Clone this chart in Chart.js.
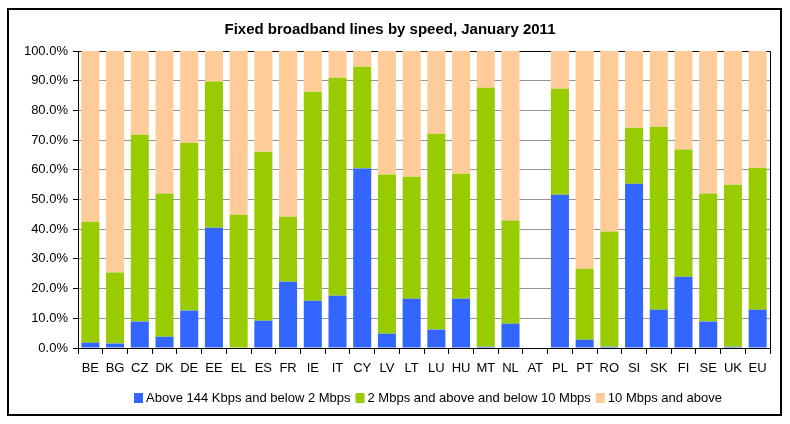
<!DOCTYPE html>
<html>
<head>
<meta charset="utf-8">
<script src="https://cdn.jsdelivr.net/npm/chart.js@4.4.1/dist/chart.umd.min.js"></script>
<style>
  html, body { margin: 0; padding: 0; background: #fff; }
  #wrap { width: 790px; height: 424px; }
</style>
</head>
<body>
<div id="wrap"><canvas id="broadbandChart" width="790" height="424"></canvas></div>
<script>
// Fixed broadband lines by speed, January 2011 (share of lines, %)
const countries = ['BE', 'BG', 'CZ', 'DK', 'DE', 'EE', 'EL', 'ES', 'FR', 'IE', 'IT', 'CY', 'LV', 'LT',
  'LU', 'HU', 'MT', 'NL', 'AT', 'PL', 'PT', 'RO', 'SI', 'SK', 'FI', 'SE', 'UK', 'EU'];
const below2Mbps = [1.8, 1.5, 8.9, 3.8, 12.6, 40.5, 0, 9.2, 22.3, 15.9, 17.6, 60.4, 4.8, 16.6,
  6.2, 16.6, 0.4, 8.2, null, 51.6, 2.8, 0.4, 55.3, 12.9, 24.0, 8.9, 0.4, 12.9];
const from2to10Mbps = [40.7, 23.9, 62.9, 48.2, 56.5, 49.2, 44.9, 56.9, 21.9, 70.4, 73.4, 34.3, 53.6, 41.1,
  65.9, 42.1, 87.2, 34.7, null, 35.7, 23.9, 38.8, 18.9, 61.6, 42.8, 43.1, 54.6, 47.8];
const above10Mbps = [57.5, 74.6, 28.2, 48.0, 30.9, 10.3, 55.1, 33.9, 55.8, 13.7, 9.0, 5.3, 41.6, 42.3,
  27.9, 41.3, 12.4, 57.1, null, 12.7, 73.3, 60.8, 25.8, 25.5, 33.2, 48.0, 45.0, 39.3];
const yTicks = [0, 10, 20, 30, 40, 50, 60, 70, 80, 90, 100];

const FONT = "'Liberation Sans', Arial, sans-serif";

// black frame round the whole chart and round the plot area
const frames = {
  id: 'frames',
  beforeDatasetsDraw(chart) {
    const { ctx, chartArea: a } = chart;
    ctx.save();
    ctx.strokeStyle = '#000';
    ctx.lineWidth = 1;
    ctx.beginPath();
    ctx.moveTo(a.left, a.top + 0.5);
    ctx.lineTo(a.right + 0.5, a.top + 0.5);
    ctx.lineTo(a.right + 0.5, a.bottom);
    ctx.stroke();
    ctx.restore();
  },
  afterDraw(chart) {
    const ctx = chart.ctx;
    ctx.save();
    ctx.strokeStyle = '#000';
    ctx.lineWidth = 2;
    ctx.strokeRect(8, 9, 773, 406);
    ctx.restore();
  }
};

// legend row under the axis labels
const legendRow = {
  id: 'legendRow',
  afterDraw(chart) {
    const ctx = chart.ctx;
    const sets = chart.data.datasets;
    const box = 9, textGap = 3, itemGap = 5;
    ctx.save();
    ctx.font = '13px ' + FONT;
    const widths = sets.map(ds => box + textGap + ctx.measureText(ds.label).width);
    const total = widths.reduce((s, w) => s + w, 0) + itemGap * (sets.length - 1);
    let x = Math.round(428 - total / 2);
    const y = 398;
    sets.forEach((ds, i) => {
      ctx.fillStyle = ds.backgroundColor;
      ctx.fillRect(x, y - 5, box, box + 1);
      ctx.fillStyle = '#000';
      ctx.textBaseline = 'middle';
      ctx.textAlign = 'left';
      ctx.fillText(ds.label, x + box + textGap, y);
      x += widths[i] + itemGap;
    });
    ctx.restore();
  }
};

new Chart(document.getElementById('broadbandChart'), {
  type: 'bar',
  data: {
    labels: countries,
    datasets: [
      {
        label: 'Above 144 Kbps and below 2 Mbps',
        data: below2Mbps,
        backgroundColor: '#3366FF'
      },
      {
        label: '2 Mbps and above and below 10 Mbps',
        data: from2to10Mbps,
        backgroundColor: '#99CC00'
      },
      {
        label: '10 Mbps and above',
        data: above10Mbps,
        backgroundColor: '#FFCC99'
      }
    ]
  },
  options: {
    responsive: false,
    animation: false,
    layout: { padding: { top: 0, left: 10, right: 20, bottom: 0 } },
    datasets: {
      bar: { barPercentage: 0.73, categoryPercentage: 1, borderWidth: 0 }
    },
    plugins: {
      legend: { display: false },
      tooltip: { enabled: false },
      title: {
        display: true,
        text: 'Fixed broadband lines by speed, January 2011',
        color: '#000',
        font: { family: FONT, size: 15, weight: 'bold' },
        padding: { top: 20.5, bottom: 12.5 }
      }
    },
    scales: {
      x: {
        stacked: true,
        grid: {
          display: true,
          drawOnChartArea: false,
          offset: true,
          tickLength: 6,
          color: '#000',
          tickColor: '#000'
        },
        border: { color: '#000', width: 1 },
        ticks: {
          color: '#000',
          font: { family: FONT, size: 13 },
          padding: 7,
          maxRotation: 0,
          autoSkip: false
        },
        afterFit(scale) { scale.height = 76; }
      },
      y: {
        stacked: true,
        min: 0,
        max: 100,
        afterBuildTicks(scale) { scale.ticks = yTicks.map(v => ({ value: v })); },
        grid: {
          color: '#969696',
          tickColor: '#000',
          tickLength: 5
        },
        border: { color: '#000', width: 1 },
        ticks: {
          color: '#000',
          font: { family: FONT, size: 13 },
          padding: 5,
          callback: v => v.toFixed(1) + '%'
        },
        afterFit(scale) { scale.width = 68; }
      }
    }
  },
  plugins: [frames, legendRow]
});
</script>
</body>
</html>
